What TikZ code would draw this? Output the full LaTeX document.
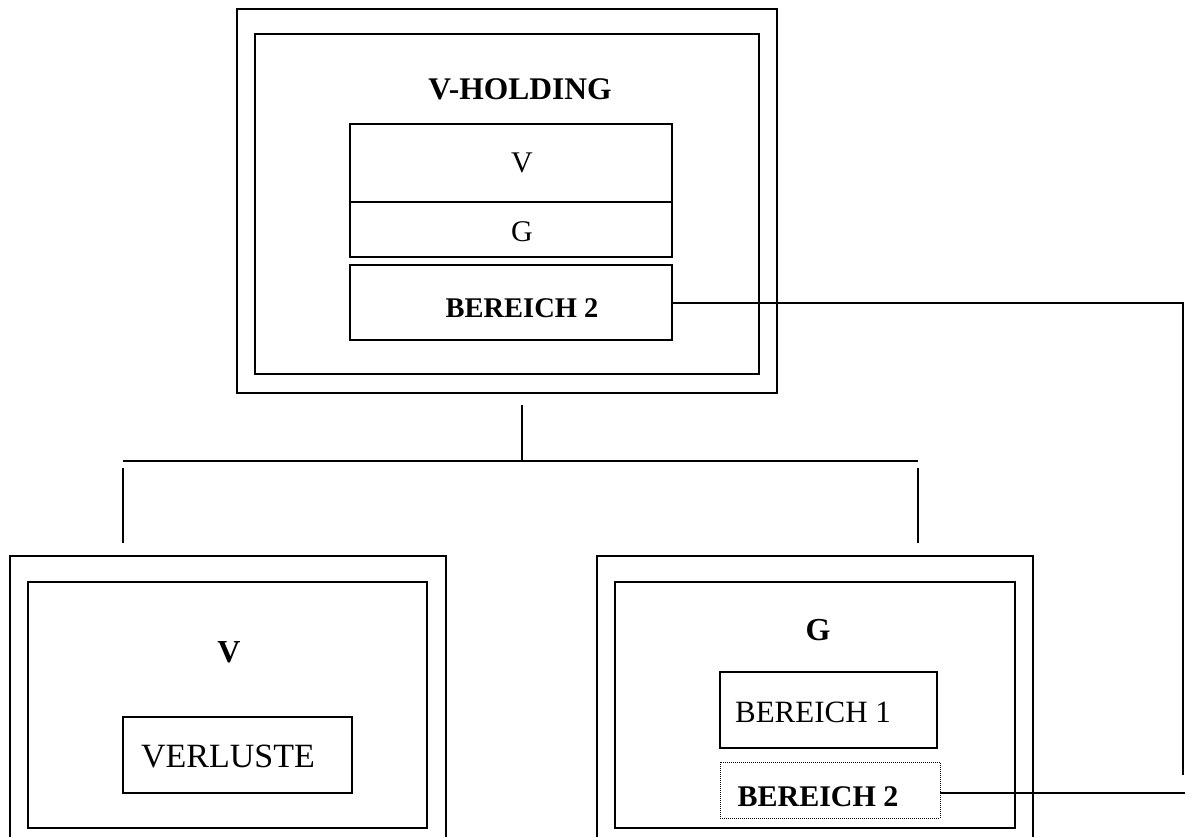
\documentclass[tikz,border=0pt]{standalone}
\usepackage{fontspec}
\setmainfont{Liberation Serif}
\begin{document}
\begin{tikzpicture}[x=1pt,y=-1pt,
  frame/.style={draw, line width=2.6pt, inner sep=0pt, fill=none},
  dotbox/.style={draw, line width=0.9pt, dash pattern=on 1pt off 1pt, inner sep=0pt},
  link/.style={line width=2.2pt},
  lbl/.style={inner sep=0pt, anchor=base},
  fs/.style={font=\fontsize{#1}{#1}\selectfont},
  fb/.style={font=\fontsize{#1}{#1}\selectfont\bfseries}]
\useasboundingbox (0,0) rectangle (1187,837);
\clip (0,0) rectangle (1187,837);
\fill[white] (0,0) rectangle (1187,837);

% V-HOLDING
\node[frame, minimum width=540, minimum height=384] (hOuter) at (507,201) {};
\node[frame, minimum width=504, minimum height=340] (hInner) at (507,204) {};
\node[lbl, fb=31.5] (hTitle) at (520,100) {V-HOLDING};
\node[frame, minimum width=322, minimum height=78] (hV) at (511,163) {};
\node[frame, minimum width=322, minimum height=55] (hG) at (511,229.5) {};
\node[frame, minimum width=322, minimum height=75] (hB) at (511,302.5) {};
\node[lbl, fs=30] (hVt) at (522,173) {V};
\node[lbl, fs=30] (hGt) at (522,242) {G};
\node[lbl, fb=28.5] (hBt) at (522,317) {BEREICH 2};

% V
\node[frame, minimum width=436, minimum height=320] (vOuter) at (228,716) {};
\node[frame, minimum width=399, minimum height=246] (vInner) at (227.5,705) {};
\node[lbl, fb=32] (vTitle) at (229,662) {V};
\node[frame, minimum width=229, minimum height=76] (vLoss) at (237.5,755) {};
\node[lbl, fs=34] (vLosst) at (228,767) {VERLUSTE};

% G
\node[frame, minimum width=436, minimum height=320] (gOuter) at (815,716) {};
\node[frame, minimum width=400, minimum height=246] (gInner) at (815,705) {};
\node[lbl, fb=32] (gTitle) at (818,640) {G};
\node[frame, minimum width=217, minimum height=76] (gB1) at (828.5,710) {};
\node[lbl, fs=31] (gB1t) at (813,722) {BEREICH 1};
\node[dotbox, minimum width=220, minimum height=56] (gB2) at (830,790) {};
\node[lbl, fb=30] (gB2t) at (818,806) {BEREICH 2};

% tree links
\coordinate (tTop) at (522,405);
\coordinate (tMid) at (522,461);
\coordinate (tL) at (123,461);
\coordinate (tR) at (918,461);
\coordinate (dLtop) at (123,468);
\coordinate (dLbot) at (123,543);
\coordinate (dRtop) at (918,468);
\coordinate (dRbot) at (918,543);
\draw[link] (tTop) -- (tMid);
\draw[link] (tL) -- (tR);
\draw[link] (dLtop) -- (dLbot);
\draw[link] (dRtop) -- (dRbot);

% BEREICH 2 links
\coordinate (rTop) at (1183,303);
\coordinate (rBot) at (1183,775);
\coordinate (rEnd) at (1185,793);
\draw[link] (hB.east |- rTop) -- (rTop) -- (rBot);
\draw[link] (gB2.east |- rEnd) -- (rEnd);
\end{tikzpicture}
\end{document}
